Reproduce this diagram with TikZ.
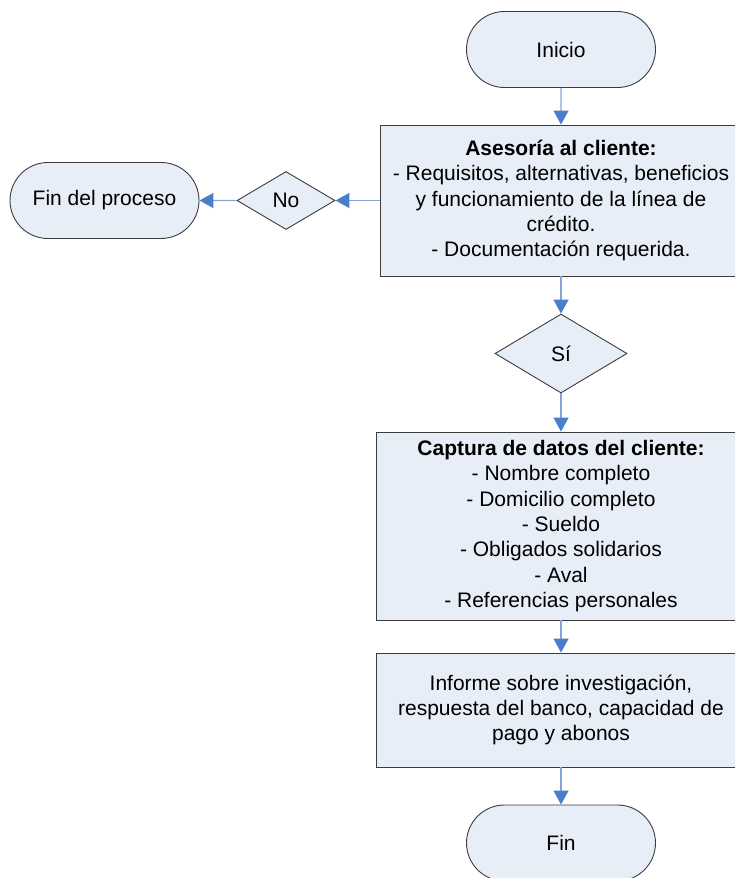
\documentclass[tikz,border=0pt]{standalone}
\usepackage{fontspec}
\setmainfont{Liberation Sans}
\usetikzlibrary{shapes.misc,shapes.geometric,arrows.meta}
\definecolor{boxfill}{RGB}{232,238,247}
\definecolor{lineblue}{RGB}{130,165,215}
\definecolor{headblue}{RGB}{74,126,200}
\definecolor{edge}{RGB}{60,60,60}
\tikzset{
  txt/.style={font=\fontsize{21pt}{25.3pt}\selectfont, align=center},
  term/.style={rounded rectangle, draw=edge, fill=boxfill, line width=0.9pt,
    minimum width=189pt, minimum height=76pt, inner sep=0pt, txt},
  procbox/.style={rectangle, draw=edge, fill=boxfill, line width=0.9pt, inner sep=0pt, txt},
  decis/.style={diamond, draw=edge, fill=boxfill, line width=0.9pt, inner sep=0pt, txt},
  arr/.style={draw=lineblue, line width=1.3pt,
    -{Triangle[length=14pt,width=15pt,color=headblue]}}
}
\begin{document}
\begin{tikzpicture}[x=1pt,y=-1pt]
\useasboundingbox (0,0) rectangle (735,878);
\node[term] (inicio) at (561,49.5) {Inicio};
\node[procbox, minimum width=362pt, minimum height=151pt] (box1) at (561,200.5)
  {\textbf{Asesoría al cliente:}\\- Requisitos, alternativas, beneficios\\y funcionamiento de la línea de\\crédito.\\- Documentación requerida.};
\node[decis, minimum width=98pt, minimum height=58pt] (no) at (286,200.5) {No};
\node[term] (finproc) at (104.5,200.5) {Fin del proceso};
\node[decis, minimum width=132pt, minimum height=79pt] (si) at (561,353.5) {Sí};
\node[procbox, minimum width=370pt, minimum height=188pt] (box2) at (561,526)
  {\textbf{Captura de datos del cliente:}\\- Nombre completo\\- Domicilio completo\\- Sueldo\\- Obligados solidarios\\- Aval\\- Referencias personales};
\node[procbox, minimum width=370pt, minimum height=114pt] (box3) at (561,710)
  {Informe sobre investigación,\\respuesta del banco, capacidad de\\pago y abonos};
\node[term] (fin) at (561,843) {Fin};
\draw[arr] (inicio) -- (box1);
\draw[arr] (box1.west) -- (no.east);
\draw[arr] (no) -- (finproc);
\draw[arr] (box1) -- (si);
\draw[arr] (si) -- (box2);
\draw[arr] (box2) -- (box3);
\draw[arr] (box3) -- (fin);
\end{tikzpicture}
\end{document}
